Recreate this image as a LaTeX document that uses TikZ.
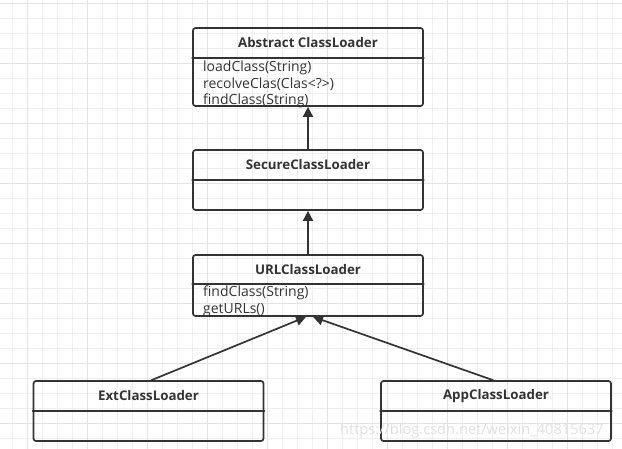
\documentclass[tikz,border=0pt]{standalone}
\usepackage{fontspec}
\setmainfont{Open Sans}
\usetikzlibrary{arrows.meta}

\definecolor{umlline}{HTML}{333333}
\definecolor{gridminor}{HTML}{EFEFEF}
\definecolor{gridmajor}{HTML}{E2E2E2}

\begin{document}
\begin{tikzpicture}[x=1pt, y=-1pt,
                    >={Triangle[length=10pt,width=10pt]}, line cap=round,
                    classbox/.style={draw=umlline, line width=1.7pt, rounded corners=2.5pt,
                                     minimum width=230pt, inner sep=0pt},
                    classname/.style={font=\bfseries\fontsize{13.3}{15}\selectfont, text=umlline},
                    methods/.style={font=\fontsize{14}{16}\selectfont,
                                    anchor=base west, inner sep=0pt, text=umlline},
                    inherits/.style={draw=umlline, line width=1.7pt, ->}
                   ]
\useasboundingbox (0,0) rectangle (622,449);
\clip (0,0) rectangle (622,449);

\foreach \x in {12,27,...,612}
    \draw [gridminor, line width=0.8pt] (\x,0) -- (\x,449);
\foreach \y in {3,18,...,448}
    \draw [gridminor, line width=0.8pt] (0,\y) -- (622,\y);
\foreach \x in {27,87,...,612}
    \draw [gridmajor, line width=0.8pt] (\x,0) -- (\x,449);
\foreach \y in {3,63,...,448}
    \draw [gridmajor, line width=0.8pt] (0,\y) -- (622,\y);

\node [classbox, minimum height=78pt] (abstract) at (308,67) {};
\node [classname] (abstractname) at (308,43) {Abstract ClassLoader};
\draw [umlline, line width=1.7pt] (abstract.west |- 0,58) -- (abstract.east |- 0,58);
\foreach \op [count=\i] in {loadClass(String), recolveClas(Clas<?>), findClass(String)}
    \node [methods] (abstractop\i) at (203,{55.5+16.5*\i}) {\op};

\node [classbox, minimum height=60pt] (secure) at (308,180) {};
\node [classname] (securename) at (308,165) {SecureClassLoader};
\draw [umlline, line width=1.7pt] (secure.west |- 0,180) -- (secure.east |- 0,180);

\node [classbox, minimum height=61pt] (url) at (308,285.5) {};
\node [classname] (urlname) at (308,270) {URLClassLoader};
\draw [umlline, line width=1.7pt] (url.west |- 0,284) -- (url.east |- 0,284);
\foreach \op [count=\i] in {findClass(String), getURLs()}
    \node [methods] (urlop\i) at (203,{280.5+16.5*\i}) {\op};

\node [classbox, minimum height=60pt] (ext) at (148.5,411) {};
\node [classname] (extname) at (148.5,396) {ExtClassLoader};
\draw [umlline, line width=1.7pt] (ext.west |- 0,411) -- (ext.east |- 0,411);

\node [classbox, minimum height=60pt] (app) at (496,411) {};
\node [classname] (appname) at (496,396) {AppClassLoader};
\draw [umlline, line width=1.7pt] (app.west |- 0,411) -- (app.east |- 0,411);

\draw [inherits] (secure.north) -- (abstract.south);
\draw [inherits] (url.north) -- (secure.south);
\draw [inherits] ([xshift=3pt]ext.north) -- ([xshift=-2pt]url.south);
\draw [inherits] ([xshift=-3pt]app.north) -- ([xshift=5pt]url.south);

\node [font=\fontsize{14.6}{15}\selectfont, text=black!12, anchor=base west, inner sep=0pt]
    (watermark) at (340,435) {https://blog.csdn.net/weixin\_40815637};
\end{tikzpicture}
\end{document}
